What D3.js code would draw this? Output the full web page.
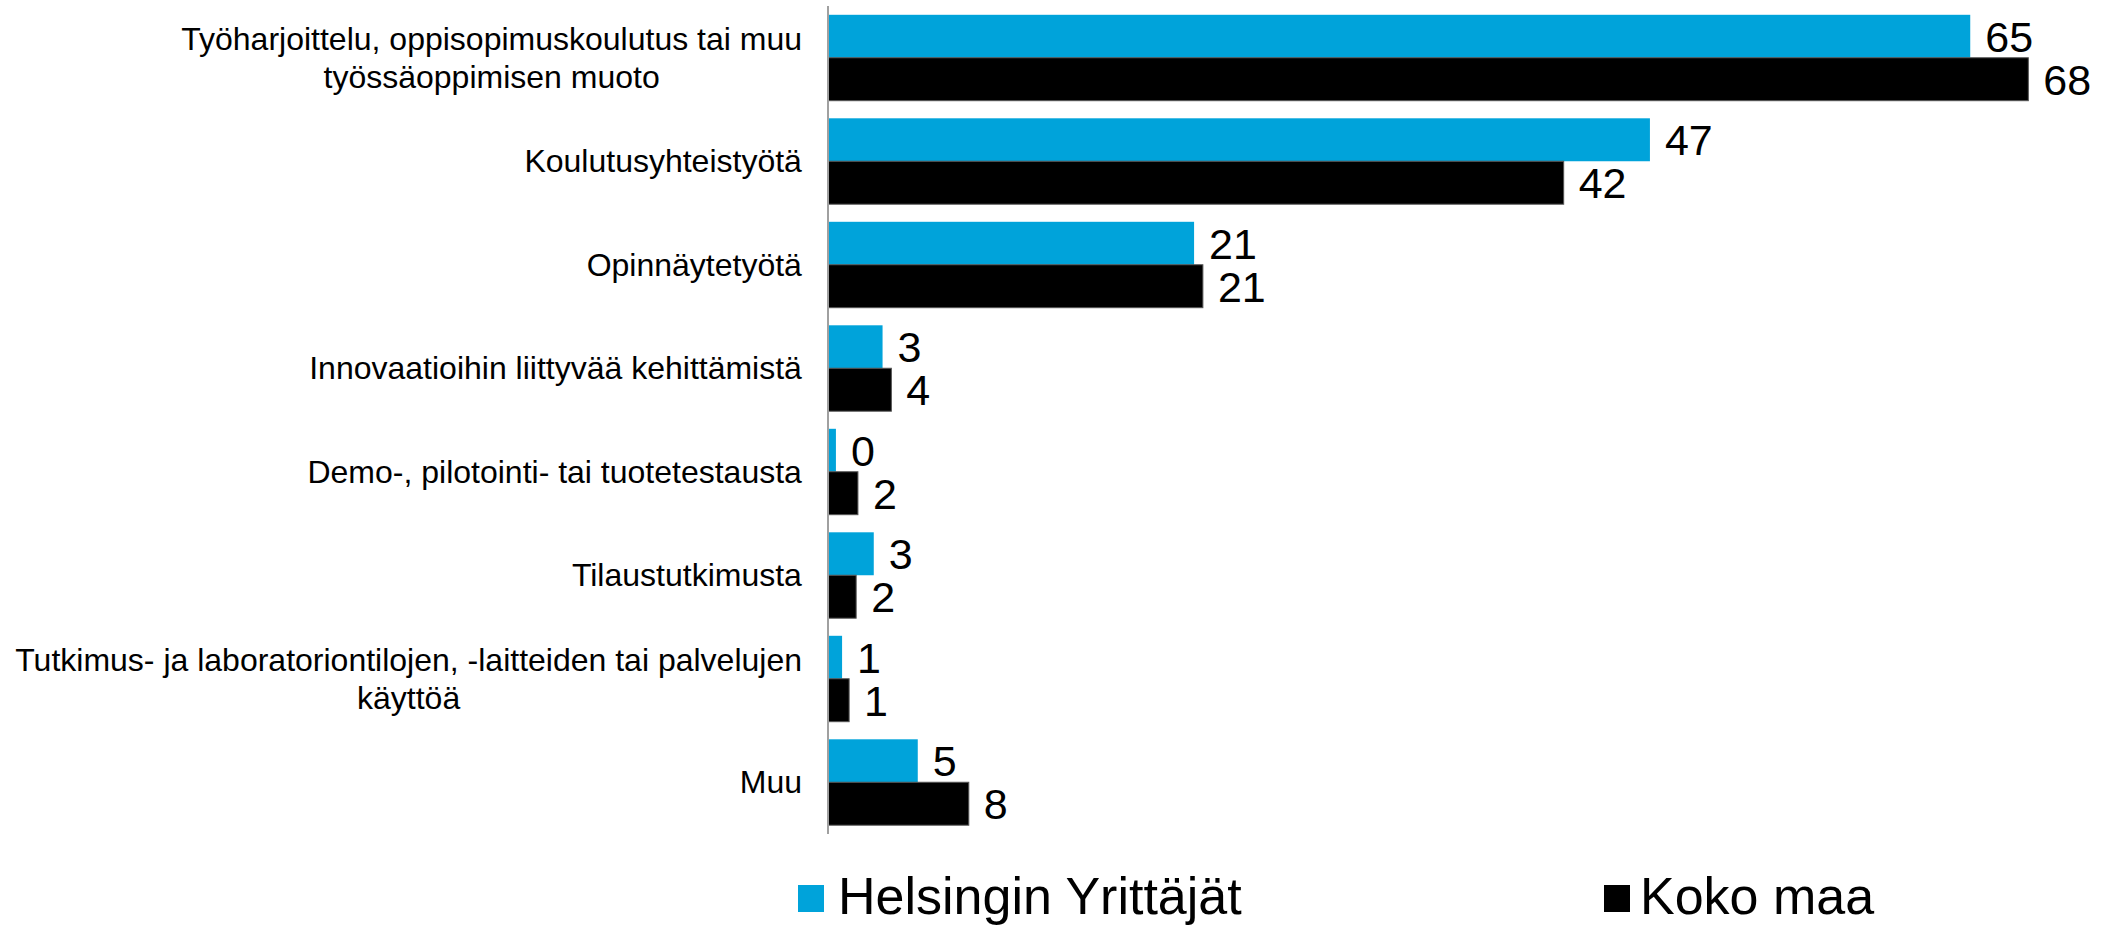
<!DOCTYPE html>
<html>
<head>
<meta charset="utf-8">
<script src="https://cdn.jsdelivr.net/npm/d3@7"></script>
<style>
  html, body { margin: 0; padding: 0; background: #fff; }
  svg { display: block; font-family: "Liberation Sans", Arial, sans-serif; }
</style>
</head>
<body>
<svg id="chart" width="2105" height="925"></svg>
<script>
const categories = [
  ["Työharjoittelu, oppisopimuskoulutus tai muu", "työssäoppimisen muoto"],
  ["Koulutusyhteistyötä"],
  ["Opinnäytetyötä"],
  ["Innovaatioihin liittyvää kehittämistä"],
  ["Demo-, pilotointi- tai tuotetestausta"],
  ["Tilaustutkimusta"],
  ["Tutkimus- ja laboratoriontilojen, -laitteiden tai palvelujen", "käyttöä"],
  ["Muu"]
];
const seriesNames = ["Helsingin Yrittäjät", "Koko maa"];
const helsinki = [64.9, 46.7, 20.8, 3.1, 0.45, 2.6, 0.8, 5.1];
const kokoMaa  = [68.2, 41.8, 21.3, 3.6, 1.7, 1.6, 1.2, 8.0];
const colors = ["#00A3DA", "#000000"];

const svg = d3.select("#chart");
const x0 = 828;
const pxPerUnit = 17.6;
const x = d3.scaleLinear().domain([0, 70]).range([x0, x0 + 70 * pxPerUnit]);
const idx = d3.range(categories.length);
const y = d3.scaleBand().domain(idx).range([6, 834]).paddingInner(0.17).paddingOuter(0.085);
const ySub = d3.scaleBand().domain([0, 1]).range([0, y.bandwidth()]);

const series = [helsinki, kokoMaa];
const fmt = d3.format(".0f");

series.forEach((vals, s) => {
  const g = svg.append("g");
  g.selectAll("rect").data(vals).join("rect")
    .attr("x", x(0))
    .attr("y", (d, i) => y(i) + ySub(s))
    .attr("width", d => x(d) - x(0))
    .attr("height", ySub.bandwidth())
    .attr("fill", colors[s])
    .attr("stroke", s === 1 ? "#555" : "none")
    .attr("stroke-width", s === 1 ? 1 : 0);
  g.selectAll("text").data(vals).join("text")
    .attr("x", d => x(d) + 15)
    .attr("y", (d, i) => y(i) + ySub(s) + ySub.bandwidth() / 2)
    .attr("dy", "0.36em")
    .attr("font-size", 43)
    .attr("fill", "#000")
    .text(d => fmt(d));
});

// axis line
svg.append("line")
  .attr("x1", x0).attr("x2", x0)
  .attr("y1", 6).attr("y2", 834)
  .attr("stroke", "#A0A0A0").attr("stroke-width", 2);

// category labels
const lineH = 37.5;
const labels = svg.append("g");
categories.forEach((lines, i) => {
  const cy = y(i) + y.bandwidth() / 2;
  const t = labels.append("text")
    .attr("font-size", 32)
    .attr("fill", "#000")
    .attr("text-anchor", "middle");
  lines.forEach((ln, k) => {
    t.append("tspan")
      .attr("x", 0)
      .attr("y", cy + (k - (lines.length - 1) / 2) * lineH)
      .attr("dy", "0.35em")
      .text(ln);
  });
  const bb = t.node().getBBox();
  t.attr("transform", `translate(${802 - bb.width / 2},0)`);
});

// legend
const legendItems = [
  {name: seriesNames[0], color: colors[0], sx: 798, tx: 838},
  {name: seriesNames[1], color: colors[1], sx: 1604, tx: 1640}
];
const lg = svg.append("g");
legendItems.forEach(it => {
  lg.append("rect").attr("x", it.sx).attr("y", 885).attr("width", 26).attr("height", 27).attr("fill", it.color);
  lg.append("text").attr("x", it.tx).attr("y", 914).attr("font-size", 52).attr("fill", "#000").text(it.name);
});
</script>
</body>
</html>
